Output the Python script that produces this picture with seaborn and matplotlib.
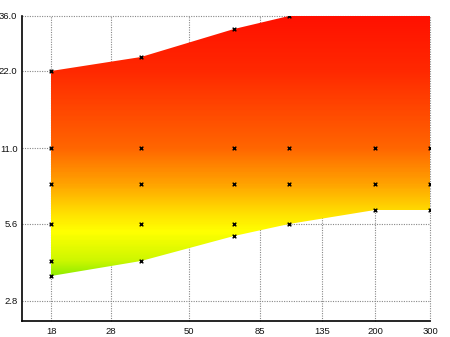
import numpy as np
import matplotlib
matplotlib.use("Agg")
import matplotlib.pyplot as plt
from matplotlib.colors import LinearSegmentedColormap, Normalize
import seaborn as sns
import pandas as pd

# ---- data ----
focal = [18, 35, 70, 105, 200, 300]
ap_min = [3.5, 4.0, 5.0, 5.6, 6.3, 6.3]
ap_max = [22, 25, 32, 36, 40, 40]

mark_focal = [18, 18, 18, 18, 18, 18,
              35, 35, 35, 35, 35,
              70, 70, 70, 70, 70,
              105, 105, 105, 105,
              200, 200, 200, 200,
              300, 300, 300, 300]
mark_ap = [3.5, 4, 5.6, 8, 11, 22,
           4, 5.6, 8, 11, 25,
           5, 5.6, 8, 11, 32,
           5.6, 8, 11, 36,
           6.3, 8, 11, 40,
           6.3, 8, 11, 40]

x_ticks = [18, 28, 50, 85, 135, 200, 300]
x_labels = ["18", "28", "50", "85", "135", "200", "300"]
y_ticks = [2.8, 5.6, 11.0, 22.0, 36.0]
y_labels = ["2.8", "5.6", "11.0", "22.0", "36.0"]

# ---- style ----
sns.set_style("white")
plt.rcParams['font.family'] = ['Liberation Sans', 'DejaVu Sans']

fig = plt.figure(figsize=(4.5, 3.37), dpi=100)
ax = fig.add_axes([22/450, 1-321/337, (430-22)/450, (321-16)/337])
ax.set_xscale('log')
ax.set_yscale('log')
ax.set_xlim(14.5, 300)
ax.set_ylim(2.34, 36)

# region outline (invisible) used as clip path
poly = ax.fill_between(focal, ap_min, ap_max, facecolor='none', edgecolor='none')

# vertical gradient by aperture value
stops = [(0.0, '#8fec00'), (0.06, '#cdf700'), (0.17, '#ffff00'),
         (0.24, '#ffe000'), (0.355, '#ffa200'), (0.49, '#ff6600'),
         (0.79, '#ff2800'), (1.0, '#ff1000')]
cmap = LinearSegmentedColormap.from_list('ap', stops)
ye = np.geomspace(3.3, 40, 500)
xe = np.array([min(focal), max(focal)])
C = np.log(np.sqrt(ye[:-1] * ye[1:])).reshape(-1, 1)
mesh = ax.pcolormesh(xe, ye, C, cmap=cmap,
                     norm=Normalize(np.log(min(ap_min)), np.log(36)),
                     shading='flat', antialiased=False, zorder=1)
mesh.set_clip_path(poly.get_paths()[0], ax.transData)

# markers
df = pd.DataFrame({'focal': mark_focal, 'ap': mark_ap})
sns.scatterplot(data=df, x='focal', y='ap', marker='x', s=7, color='black',
                linewidth=1.0, ax=ax, zorder=4, legend=False)

# axes / ticks
ax.xaxis.set_minor_locator(matplotlib.ticker.NullLocator())
ax.yaxis.set_minor_locator(matplotlib.ticker.NullLocator())
ax.set_xticks(x_ticks)
ax.set_xticklabels(x_labels)
ax.set_yticks(y_ticks)
ax.set_yticklabels(y_labels)
ax.set_xlabel('')
ax.set_ylabel('')
ax.tick_params(axis='both', direction='out', length=3, width=1, color='black',
               labelsize=6.8, labelcolor='#111111')
ax.tick_params(axis='y', pad=0.3)
ax.tick_params(axis='x', pad=1.0)
ax.grid(True, which='major', color='#888888', linestyle=(0, (1, 1.2)), linewidth=0.8)
for g in ax.get_xgridlines() + ax.get_ygridlines():
    g.set_zorder(3)
    g.set_clip_on(False)
for s in ['top', 'right']:
    ax.spines[s].set_visible(False)
for s in ['left', 'bottom']:
    ax.spines[s].set_color('black')
    ax.spines[s].set_linewidth(1.2)
    ax.spines[s].set_zorder(5)

fig.savefig('out.png', dpi=100)
